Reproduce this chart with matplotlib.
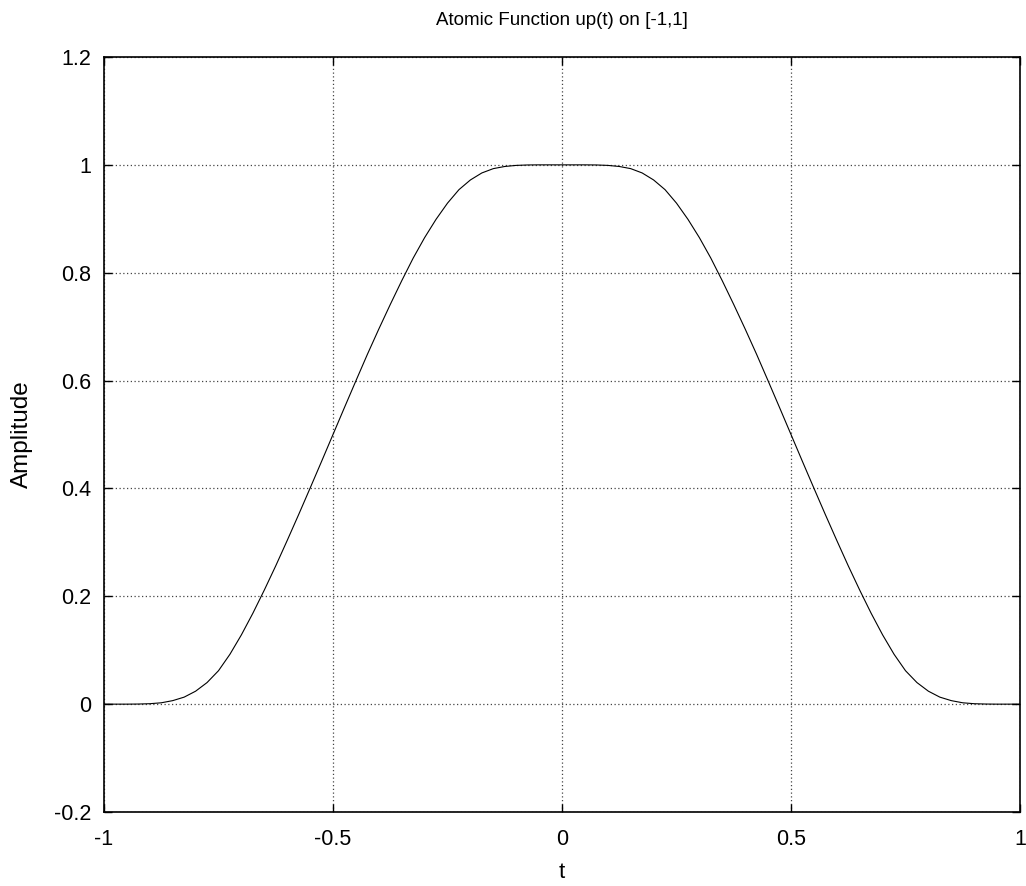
import matplotlib
matplotlib.use('Agg')
import matplotlib.pyplot as plt

plt.rcParams['font.family'] = ['Liberation Sans', 'DejaVu Sans']

# Values
t_vals = [-1.0, -0.95, -0.925, -0.9, -0.875, -0.85, -0.825, -0.8, -0.775, -0.75,
          -0.725, -0.7, -0.675, -0.65, -0.625, -0.6, -0.575, -0.55, -0.525, -0.5,
          -0.475, -0.45, -0.425, -0.4, -0.375, -0.35, -0.325, -0.3, -0.275, -0.25,
          -0.225, -0.2, -0.175, -0.15, -0.125, -0.1, -0.075, -0.05, 0.0,
          0.05, 0.075, 0.1, 0.125, 0.15, 0.175, 0.2, 0.225, 0.25, 0.275,
          0.3, 0.325, 0.35, 0.375, 0.4, 0.425, 0.45, 0.475, 0.5, 0.525,
          0.55, 0.575, 0.6, 0.625, 0.65, 0.675, 0.7, 0.725, 0.75, 0.775,
          0.8, 0.825, 0.85, 0.875, 0.9, 0.925, 0.95, 1.0]
up_vals = [0.0, 0.0, 0.0002, 0.0008, 0.0025, 0.0065, 0.013, 0.024, 0.040, 0.062,
           0.0925, 0.1285, 0.1685, 0.2115, 0.2565, 0.3035, 0.3515, 0.4005, 0.450, 0.500,
           0.550, 0.5995, 0.6485, 0.6955, 0.741, 0.785, 0.827, 0.865, 0.899, 0.929,
           0.954, 0.972, 0.985, 0.993, 0.997, 0.999, 0.9998, 1.0, 1.0,
           1.0, 0.9998, 0.999, 0.997, 0.993, 0.985, 0.972, 0.954, 0.929, 0.899,
           0.865, 0.827, 0.785, 0.741, 0.6955, 0.6485, 0.5995, 0.550, 0.500, 0.450,
           0.4005, 0.3515, 0.3035, 0.2565, 0.2115, 0.1685, 0.1285, 0.0925, 0.062, 0.040,
           0.024, 0.013, 0.0065, 0.0025, 0.0008, 0.0002, 0.0, 0.0]

x_ticks = [-1, -0.5, 0, 0.5, 1]
x_labels = ['-1', '-0.5', '0', '0.5', '1']
y_ticks = [-0.2, 0, 0.2, 0.4, 0.6, 0.8, 1, 1.2]
y_labels = ['-0.2', '0', '0.2', '0.4', '0.6', '0.8', '1', '1.2']

fig = plt.figure(figsize=(10.26, 8.86), dpi=100)
ax = fig.add_axes([104 / 1026, 74 / 886, 916 / 1026, 755 / 886])

ax.plot(t_vals, up_vals, color='black', linewidth=0.8)

ax.set_xlim(-1, 1)
ax.set_ylim(-0.2, 1.2)
ax.set_xticks(x_ticks)
ax.set_xticklabels(x_labels)
ax.set_yticks(y_ticks)
ax.set_yticklabels(y_labels)

ax.tick_params(direction='in', length=6, width=1, top=True, right=True,
               labelsize=15.5)
ax.tick_params(axis='x', pad=12)
ax.tick_params(axis='y', pad=9)
ax.grid(True, linestyle=(0, (1, 2)), color='#444444', linewidth=0.9)
for s in ax.spines.values():
    s.set_linewidth(1.2)

ax.set_title('Atomic Function up(t) on [-1,1]', fontsize=13.5, pad=23)
ax.set_xlabel('t', fontsize=16, labelpad=9)
ax.set_ylabel('Amplitude', fontsize=17.5, labelpad=15)

fig.savefig('out.png', dpi=100)
